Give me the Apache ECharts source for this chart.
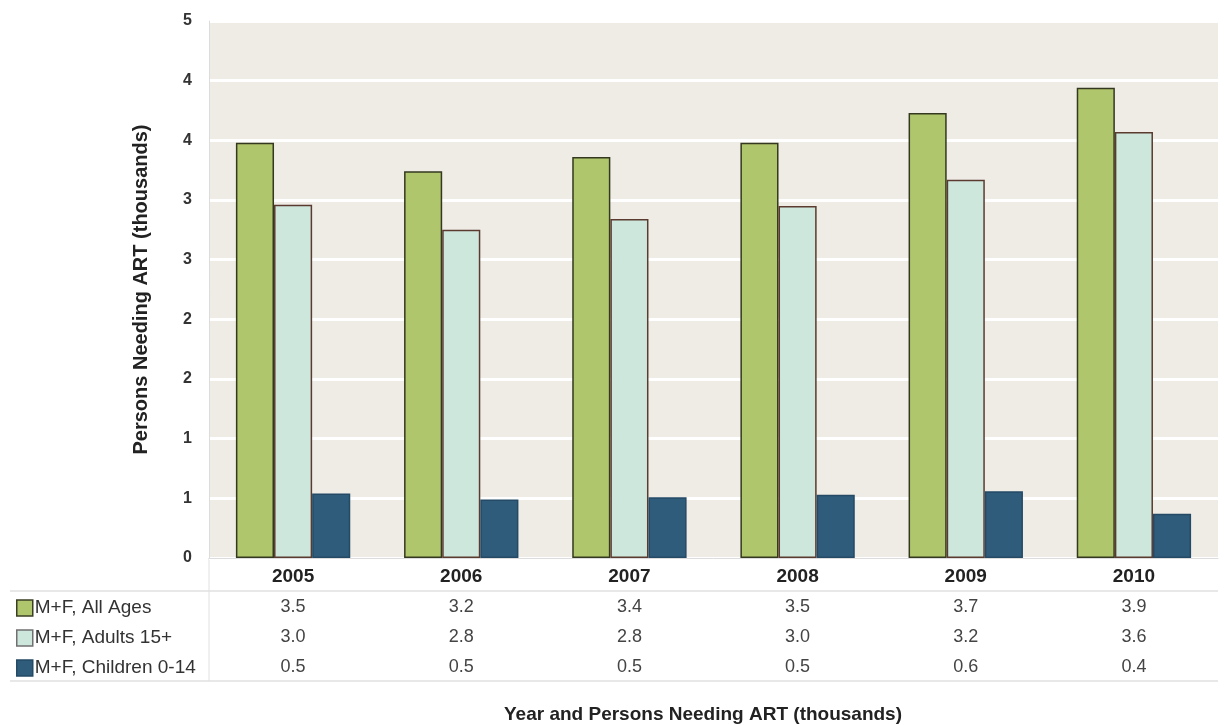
<!DOCTYPE html>
<html><head><meta charset="utf-8">
<script src="https://cdn.jsdelivr.net/npm/echarts@6/dist/echarts.min.js"></script>
<style>html,body{margin:0;padding:0;background:#fff;}#c{width:1224px;height:725px;}</style>
</head><body><div id="c"></div>
<script>
const years = ['2005','2006','2007','2008','2009','2010'];
const seriesNames = ['M+F, All Ages','M+F, Adults 15+','M+F, Children 0-14'];
const allAges = [3.48, 3.24, 3.36, 3.48, 3.73, 3.94];
const adults = [2.96, 2.75, 2.84, 2.95, 3.17, 3.57];
const children = [0.54, 0.49, 0.51, 0.53, 0.56, 0.37];
const tableAll = ['3.5','3.2','3.4','3.5','3.7','3.9'];
const tableAdults = ['3.0','2.8','2.8','3.0','3.2','3.6'];
const tableChildren = ['0.5','0.5','0.5','0.5','0.6','0.4'];
const yTickLabels = ['0','1','1','2','2','3','3','4','4','5'];

const font = 'Arial, "Liberation Sans", sans-serif';
const chart = echarts.init(document.getElementById('c'));
const colors = ['#b0c66c','#cde7dd','#2f5c7a'];
const borders = ['#34381f','#5b3b30','#244a66'];
const legendBorders = ['#3a3f24','#707070','#244a66'];
const dataSets = [allAges, adults, children];

chart.setOption({
  animation:false,
  textStyle:{fontFamily:font},
  title:{text:'Year and Persons Needing ART (thousands)',left:499,top:700,
    textStyle:{fontSize:19,fontWeight:'bold',color:'#222',fontFamily:font}},
  legend:{orient:'vertical',left:11,top:593,itemWidth:16,itemHeight:16,itemGap:10,icon:'rect',
    textStyle:{fontSize:19,lineHeight:20,color:'#333',fontFamily:font,padding:[0,0,0,-3]},
    data:seriesNames.map(function(n,k){return {name:n,itemStyle:{borderColor:legendBorders[k],borderWidth:1.5}};})},
  grid:{left:209,right:6,top:21,bottom:167,show:true,backgroundColor:'#efece6',borderWidth:0},
  xAxis:{type:'category',data:years,
    axisLine:{show:true,lineStyle:{color:'#dcdcdc',width:1}},
    axisTick:{show:false},
    axisLabel:{margin:4,interval:0,
      formatter:function(v,i){return '{y|'+v+'}\n{v|'+tableAll[i]+'}\n{v|'+tableAdults[i]+'}\n{v|'+tableChildren[i]+'}';},
      rich:{y:{fontSize:19,fontWeight:'bold',color:'#222',lineHeight:30,fontFamily:font},
            v:{fontSize:18,color:'#444',lineHeight:30,fontFamily:font}}}},
  yAxis:{type:'value',min:0,max:4.5,interval:0.5,
    name:'Persons Needing ART (thousands)',nameLocation:'middle',nameGap:58,
    nameTextStyle:{fontSize:20,fontWeight:'bold',color:'#222',fontFamily:font},
    axisLine:{show:true,lineStyle:{color:'#dcdcdc'}},
    axisTick:{show:false},
    splitLine:{lineStyle:{color:'#ffffff',width:3}},
    axisLabel:{margin:17,fontSize:16,fontWeight:'bold',color:'#333',
      formatter:function(v){return yTickLabels[Math.round(v/0.5)];}}},
  series:seriesNames.map(function(n,k){return {
    name:n,type:'bar',data:dataSets[k],barGap:'0%',barCategoryGap:'32%',
    itemStyle:{color:colors[k],borderColor:borders[k],borderWidth:1.5}};}),
  graphic:[
    {type:'line',shape:{x1:10,y1:591,x2:1218,y2:591},style:{stroke:'#e0e0e0',lineWidth:1.5},silent:true},
    {type:'line',shape:{x1:10,y1:681,x2:1218,y2:681},style:{stroke:'#e0e0e0',lineWidth:1.5},silent:true},
    {type:'line',shape:{x1:209,y1:558,x2:209,y2:681},style:{stroke:'#e0e0e0',lineWidth:1},silent:true}
  ]
});
</script></body></html>
